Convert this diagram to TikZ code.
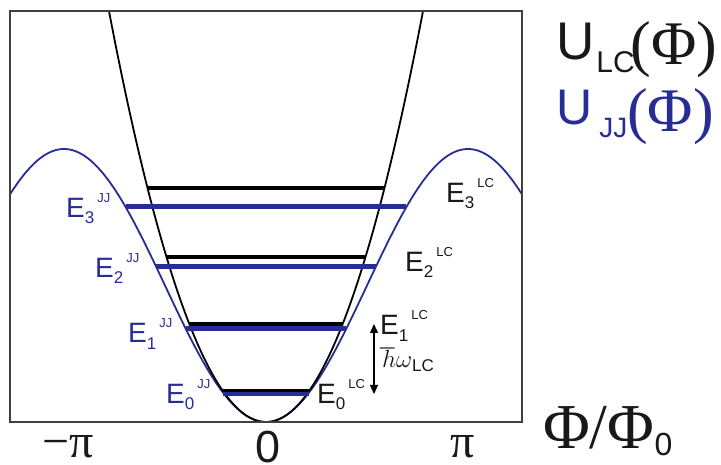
\documentclass[tikz,border=0pt]{standalone}
\usepackage{fontspec}
\setmainfont{Liberation Sans}
\newfontfamily\serifr{Liberation Serif}
\usetikzlibrary{arrows.meta}
\definecolor{jj}{RGB}{40,45,150}
\definecolor{lc}{RGB}{25,25,25}
\newcommand\fs[1]{\fontsize{#1}{#1}\selectfont}
\newcommand\elab[2]{E\raisebox{-6pt}{\fs{17}#1}\hspace{3pt}\raisebox{15pt}{\fs{13}#2}}
\begin{document}
\begin{tikzpicture}[x=1pt,y=-1pt,
  lab/.style={inner sep=0pt, anchor=base west},
  jjlevel/.style={jj, line width=5pt},
  lclevel/.style={black, line width=3.6pt},
  curve/.style={line width=1.8pt}]
\useasboundingbox (0,0) rectangle (721,465);
\fill[white] (0,0) rectangle (721,465);
\begin{scope}
\clip (10,11) rectangle (522,422);
\draw[curve, jj] plot[domain=10:522, samples=200, smooth] (\x, {422-273*(1-cos((\x-266)/202*180))/2});
\draw[curve, black] plot[domain=108:424, samples=120, smooth] (\x, {422-(0.12911*(\x-266))^2});
\end{scope}
% JJ levels
\draw[jjlevel] (125.6,207) -- (406.4,207);
\draw[jjlevel] (156.3,267) -- (375.7,267);
\draw[jjlevel] (186,329) -- (346,329);
\draw[jjlevel] (223.3,393) -- (308.7,393);
% LC levels
\draw[lclevel] (147.5,188) -- (384.5,188);
\draw[lclevel] (166.5,257) -- (365.5,257);
\draw[lclevel] (189.3,324) -- (342.7,324);
\draw[lclevel] (222.9,390.5) -- (309.1,390.5);
% frame
\draw[line width=1.5pt, black!75] (10,11) rectangle (522,422);
% arrow
\coordinate (atop) at (374,324);
\coordinate (abot) at (374,394);
\draw[line width=1.3pt, {Triangle[width=8pt,length=9pt]}-{Triangle[width=8pt,length=9pt]}] (atop) -- (abot);
% labels JJ
\node[lab, text=jj, font=\fs{28}] (e3jj) at (66,218) {\elab{3}{JJ}};
\node[lab, text=jj, font=\fs{28}] (e2jj) at (95,278) {\elab{2}{JJ}};
\node[lab, text=jj, font=\fs{28}] (e1jj) at (128,343) {\elab{1}{JJ}};
\node[lab, text=jj, font=\fs{28}] (e0jj) at (166,403) {\elab{0}{JJ}};
% labels LC
\node[lab, text=lc, font=\fs{28}] (e3lc) at (446,203) {\elab{3}{LC}};
\node[lab, text=lc, font=\fs{28}] (e2lc) at (405,272) {\elab{2}{LC}};
\node[lab, text=lc, font=\fs{28}] (e1lc) at (380,335) {\elab{1}{LC}};
\node[lab, text=lc, font=\fs{28}] (e0lc) at (317,403) {\elab{0}{LC}};
\node[lab, text=lc] (hw) at (380,367) {\fs{26}$\hbar\omega$\raisebox{-5pt}{\fs{17}LC}};
% legend
\node[lab, text=lc] (u1) at (556,60) {\fs{53}U\hspace{2pt}\raisebox{-13pt}{\fs{30}LC}\hspace{-4pt}\raisebox{-5pt}{\serifr\fs{62}(Φ)}};
\node[lab, text=jj] (u2) at (556,125) {\fs{50}U\hspace{7pt}\raisebox{-13pt}{\fs{28}JJ}\raisebox{-7pt}{\serifr\fs{62}(Φ)}};
% axis
\node[lab, text=lc] (mpi) at (42,457) {\serifr\fs{48}−π};
\node[lab, text=lc] (zero) at (255,462) {\fs{45}0};
\node[lab, text=lc] (ppi) at (450,457) {\serifr\fs{48}π};
\node[lab, text=lc] (phi) at (543,448) {\serifr\fs{64}Φ/Φ\raisebox{-7pt}{\normalfont\fs{32}0}};
\end{tikzpicture}
\end{document}
